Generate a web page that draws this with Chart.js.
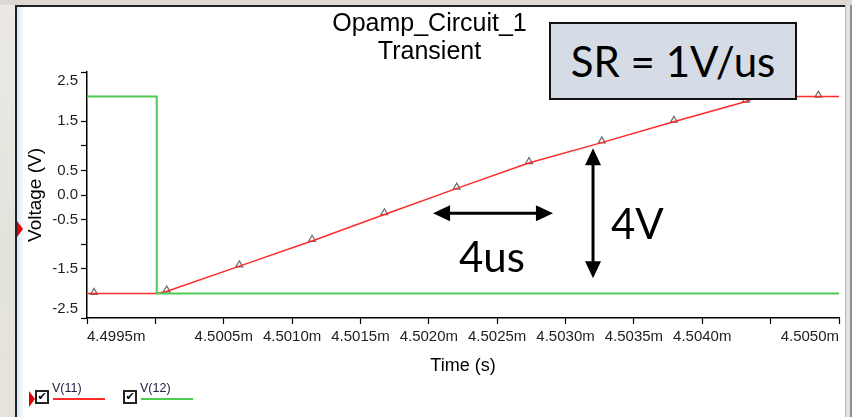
<!DOCTYPE html>
<html>
<head>
<meta charset="utf-8">
<script src="https://cdn.jsdelivr.net/npm/chart.js@4.4.0/dist/chart.umd.min.js"></script>
<style>
  html, body { margin: 0; padding: 0; }
  body {
    width: 852px; height: 417px; overflow: hidden; position: relative;
    background: linear-gradient(#ece9e5, #e2e4dc 60%, #e8e2dc);
    font-family: "Liberation Sans", Arial, sans-serif;
  }
  #topbar { position: absolute; left: 0; top: 0; width: 852px; height: 5px; background: #ddd8d3; }
  #panel {
    position: absolute; left: 15px; top: 5px; width: 830px; height: 412px;
    background: linear-gradient(to right, #dfe5ec 0px, #f4f6f8 5px, #fff 8px);
    border-left: 2px solid #18232f; border-top: 2px solid #222; box-sizing: border-box;
  }
  #rightedge {
    position: absolute; left: 845px; top: 5px; width: 7px; height: 412px;
    background: #e2e2e2; border-left: 1px solid #b8b8b8; border-right: 2px solid #8c8c8c; box-sizing: border-box;
  }
  #chart { position: absolute; left: 0; top: 0; }
  .note { position: absolute; font-family: Lato, "Open Sans", sans-serif; font-size: 42px; color: #000; line-height: 1; white-space: nowrap; }
  #srbox {
    position: absolute; left: 549px; top: 22px; width: 248px; height: 78px; box-sizing: border-box;
    background: #d6dce5; border: 2px solid #111;
    font-family: Lato, "Open Sans", sans-serif; font-size: 42px; line-height: 74px; text-align: center; color: #000;
  }
  .marker { position: absolute; width: 0; height: 0; border-top: 8px solid transparent; border-bottom: 8px solid transparent; border-left: 6px solid #e00000; }
  #legend { position: absolute; left: 35px; top: 381px; height: 30px; }
  .item { position: absolute; top: 0; width: 80px; height: 30px; }
  .box {
    position: absolute; left: 0; top: 9px; width: 14px; height: 14px; box-sizing: border-box;
    border: 2px solid #222; background: #fff;
    font-family: "DejaVu Sans", sans-serif; font-size: 11px; font-weight: bold; line-height: 10px; text-align: center; color: #000;
  }
  .name { position: absolute; left: 17px; top: 0; font-size: 12.5px; color: #222244; }
  .swatch { position: absolute; left: 18px; top: 17px; width: 52px; height: 2px; }
</style>
</head>
<body>
<div id="topbar"></div>
<div id="panel"></div>
<div id="rightedge"></div>
<canvas id="chart" width="852" height="417"></canvas>

<div id="srbox">SR = 1V/us</div>
<div class="note" style="left:459px; top:235px;">4us</div>
<div class="note" style="left:611px; top:202px;">4V</div>

<div class="marker" style="left:17px; top:221px;"></div>
<div class="marker" style="left:29px; top:391px;"></div>
<div id="legend"></div>

<script>
// time axis in ms (labels carry the "m" suffix)
const timeTicks  = [4.4995, 4.5000, 4.5005, 4.5010, 4.5015, 4.5020, 4.5025, 4.5030, 4.5035, 4.5040, 4.5045, 4.5050];
const timeLabels = ["4.4995m", "", "4.5005m", "4.5010m", "4.5015m", "4.5020m", "4.5025m", "4.5030m", "4.5035m", "4.5040m", "", "4.5050m"];
const voltTicks  = [2.5, 1.5, 1.0, 0.5, 0.0, -0.5, -1.0, -1.5, -2.5];
const voltLabels = ["2.5", "1.5", "", "0.5", "0.0", "-0.5", "", "-1.5", "-2.5"];

const seriesNames = ["V(11)", "V(12)"];

// V(11): op-amp output, slewing
const outTimes = [4.4995, 4.50001, 4.50008, 4.50061, 4.50115, 4.50168, 4.50220, 4.50273, 4.50327, 4.50379, 4.50432, 4.50440, 4.5050];
const outVolts = [-2.0, -2.0, -1.96, -1.45, -0.93, -0.39, 0.13, 0.65, 1.07, 1.49, 1.90, 2.0, 2.0];

// triangle markers sitting on V(11)
const markTimes = [4.499551, 4.500083, 4.500614, 4.501146, 4.501675, 4.502204, 4.502733, 4.503265, 4.503793, 4.504320, 4.504849];
const markVolts = [-1.98, -1.93, -1.42, -0.90, -0.36, 0.16, 0.68, 1.10, 1.52, 1.93, 2.03];

// V(12): input step
const inTimes = [4.4995, 4.50001, 4.50001, 4.5050];
const inVolts = [2.0, 2.0, -2.0, -2.0];

// annotation arrows, in data units
const spanArrows = [
  { t0: 4.502031, v0: -0.37, t1: 4.502908, v1: -0.37 },
  { t0: 4.503201, v0: 0.95, t1: 4.503201, v1: -1.69 }
];

const redColor = "#ff2a2a";
const greenColor = "#52c952";

const toPoints = (xs, ys) => xs.map((t, i) => ({ x: t, y: ys[i] }));

function drawDoubleArrow(ctx, x0, y0, x1, y1) {
  const len = Math.hypot(x1 - x0, y1 - y0);
  const ux = (x1 - x0) / len, uy = (y1 - y0) / len;
  const head = 17, half = 8;
  ctx.beginPath();
  ctx.moveTo(x0 + ux * head * 0.8, y0 + uy * head * 0.8);
  ctx.lineTo(x1 - ux * head * 0.8, y1 - uy * head * 0.8);
  ctx.stroke();
  [[x0, y0, 1], [x1, y1, -1]].forEach(([px, py, s]) => {
    const bx = px + ux * head * s, by = py + uy * head * s;
    ctx.beginPath();
    ctx.moveTo(px, py);
    ctx.lineTo(bx - uy * half, by + ux * half);
    ctx.lineTo(bx + uy * half, by - ux * half);
    ctx.closePath();
    ctx.fill();
  });
}

const arrowPlugin = {
  id: "spanArrows",
  afterDatasetsDraw(chart) {
    const { ctx, scales: { x, y } } = chart;
    ctx.save();
    ctx.strokeStyle = "#000";
    ctx.fillStyle = "#000";
    ctx.lineWidth = 3;
    spanArrows.forEach(a => {
      drawDoubleArrow(ctx, x.getPixelForValue(a.t0), y.getPixelForValue(a.v0),
                           x.getPixelForValue(a.t1), y.getPixelForValue(a.v1));
    });
    ctx.restore();
  }
};

const tickFont = { family: "Liberation Sans", size: 15 };

new Chart(document.getElementById("chart").getContext("2d"), {
  type: "scatter",
  data: {
    datasets: [
      {
        label: seriesNames[1],
        data: toPoints(inTimes, inVolts),
        showLine: true,
        borderColor: greenColor,
        borderWidth: 2,
        pointRadius: 0,
        tension: 0
      },
      {
        label: seriesNames[0],
        data: toPoints(outTimes, outVolts),
        showLine: true,
        borderColor: redColor,
        borderWidth: 1.5,
        pointRadius: 0,
        tension: 0
      },
      {
        label: seriesNames[0] + " markers",
        data: toPoints(markTimes, markVolts),
        showLine: false,
        pointStyle: "triangle",
        pointRadius: 4,
        pointBorderWidth: 1.2,
        pointBorderColor: "#6a6a6a",
        pointBackgroundColor: "rgba(255,255,255,0.6)"
      }
    ]
  },
  options: {
    responsive: false,
    animation: false,
    events: [],
    clip: false,
    layout: { padding: { left: 20, right: 13, top: 10, bottom: 39 } },
    plugins: {
      legend: { display: false },
      tooltip: { enabled: false },
      title: {
        display: true,
        text: ["Opamp_Circuit_1", "Transient"],
        color: "#000",
        font: { family: "Liberation Sans", size: 25, weight: "normal", lineHeight: 1.12 },
        padding: { top: 0, bottom: 6 }
      }
    },
    scales: {
      x: {
        type: "linear",
        min: timeTicks[0],
        max: timeTicks[timeTicks.length - 1],
        afterBuildTicks: s => { s.ticks = timeTicks.map(v => ({ value: v })); },
        afterFit: s => { s.height = 60; },
        border: { display: true, color: "#000", width: 1.5 },
        grid: { drawOnChartArea: false, drawTicks: true, tickLength: 6, color: "#000", tickWidth: 1.2 },
        ticks: {
          autoSkip: false,
          maxRotation: 0,
          align: "inner",
          padding: 4,
          color: "#1e1e1e",
          font: tickFont,
          callback: (v, i) => timeLabels[i]
        },
        title: {
          display: true,
          text: "Time (s)",
          color: "#000",
          font: { family: "Liberation Sans", size: 18 },
          padding: { top: 0, bottom: 1 }
        }
      },
      y: {
        min: -2.5,
        max: 2.5,
        afterBuildTicks: s => { s.ticks = voltTicks.map(v => ({ value: v })); },
        afterFit: s => { s.width = 67; },
        border: { display: true, color: "#000", width: 1.5 },
        grid: { drawOnChartArea: false, drawTicks: true, tickLength: 6, color: "#000", tickWidth: 1.2 },
        ticks: {
          autoSkip: false,
          padding: 3,
          color: "#1e1e1e",
          font: tickFont,
          callback: (v, i) => {
            const lab = voltLabels[i];
            // keep the end labels inside the axis span
            if (i === 0) return ["", lab];
            if (i === voltLabels.length - 1) return [lab, ""];
            return lab;
          }
        },
        title: {
          display: true,
          text: "Voltage (V)",
          color: "#000",
          font: { family: "Liberation Sans", size: 19 },
          padding: { top: 4, bottom: 0 }
        }
      }
    }
  },
  plugins: [arrowPlugin]
});

// legend strip with check boxes
const legend = document.getElementById("legend");
[[seriesNames[0], redColor], [seriesNames[1], greenColor]].forEach(([name, color], i) => {
  const item = document.createElement("div");
  item.className = "item";
  item.style.left = (i * 88) + "px";
  item.innerHTML = `<div class="box">✔</div><div class="name">${name}</div>` +
                   `<div class="swatch" style="background:${color}"></div>`;
  legend.appendChild(item);
});
</script>
</body>
</html>
